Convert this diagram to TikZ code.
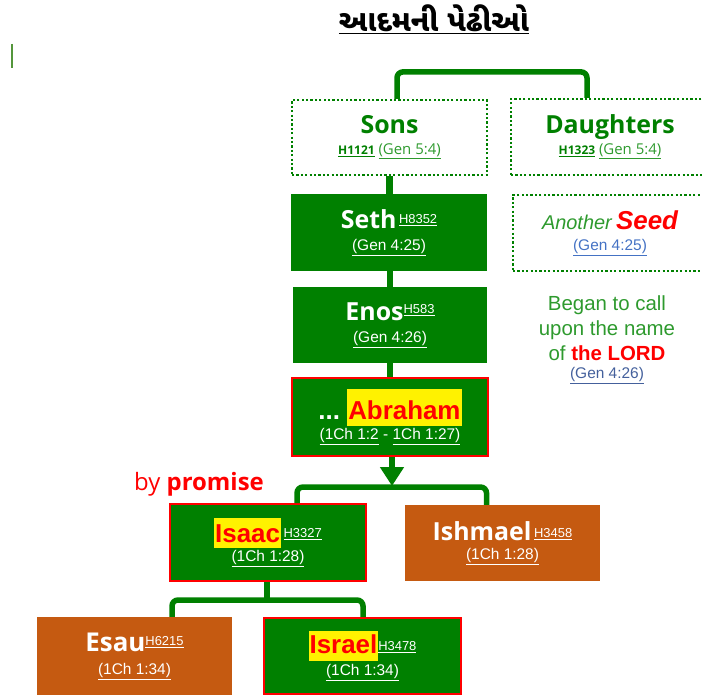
\documentclass[tikz,border=0pt]{standalone}
\usepackage{fontspec}
\setmainfont{Liberation Sans}
\newfontfamily\seg{Open Sans}
\newfontfamily\guj[Script=Gujarati]{Noto Sans Gujarati UI}
\usetikzlibrary{arrows.meta,calc}
\definecolor{gr}{RGB}{0,128,0}
\definecolor{lgr}{RGB}{46,154,46}
\definecolor{org}{RGB}{197,90,17}
\definecolor{lnk}{RGB}{68,114,196}
\definecolor{slate}{RGB}{68,96,156}
\definecolor{barc}{RGB}{84,150,60}
\newcommand\fs[2]{\fontsize{#1}{#2}\selectfont}
\newcommand\hlt[3]{{\setlength{\fboxsep}{0pt}\colorbox{yellow}{\kern1bp\rule[-#2]{0pt}{#3}#1\kern1bp}}}
\newcommand\hnum[2]{\raisebox{#2}{\fs{13}{14}\underline{#1}}}
\tikzset{
  gbox/.style={fill=gr, text=white, inner sep=0pt, align=center},
  rbox/.style={fill=gr, draw=red, line width=2bp, text=white, inner sep=0pt, align=center},
  obox/.style={fill=org, text=white, inner sep=0pt, align=center},
  dbox/.style={draw=gr, line width=2.2bp, dash pattern=on 2.2bp off 2.2bp, inner sep=0pt, align=center},
  conn/.style={draw=gr, line width=6.5bp},
  brk/.style={draw=gr, line width=5.5bp, rounded corners=6bp},
}
\begin{document}
\begin{tikzpicture}[x=1bp,y=-1bp]
\useasboundingbox (0,0) rectangle (702,698);
% title
\node (title) at (434,19) {\guj\bfseries\fs{30}{34}\underline{આદમની પેઢીઓ}};
\draw[barc, line width=2.5bp] (12,44) -- (12,68);
% boxes
\node[dbox, minimum width=195bp, minimum height=75bp, font=\seg\fs{15}{21}] (sons) at (389.5,137.5)
  {{\bfseries\color{gr}\fs{25}{21}Sons}\\{\bfseries\color{gr}\fs{12}{14}\underline{H1121}} {\color{lgr}\underline{(Gen 5:4)}}};
\node[dbox, minimum width=198bp, minimum height=76bp, font=\seg\fs{15}{21}] (daughters) at (610,137)
  {{\bfseries\color{gr}\fs{25}{21}Daughters}\\{\bfseries\color{gr}\fs{12}{14}\underline{H1323}} {\color{lgr}\underline{(Gen 5:4)}}};
\node[gbox, minimum width=196bp, minimum height=77bp, font=\fs{15.5}{22}] (seth) at (389,232.5)
  {{\seg\bfseries\fs{25}{22}Seth}\,\hnum{H8352}{5bp}\\\underline{(Gen 4:25)}};
\node[gbox, minimum width=194bp, minimum height=76bp, font=\fs{15.5}{22}] (enos) at (390,325)
  {{\seg\bfseries\fs{25}{22}Enos}\hnum{H583}{7bp}\\\underline{(Gen 4:26)}};
\node[dbox, minimum width=194bp, minimum height=76bp, font=\fs{15.5}{21}] (seed) at (610,233)
  {{\itshape\color{lgr}\fs{20}{21}Another} {\bfseries\itshape\color{red}\fs{26}{21}Seed}\\{\color{lnk}\underline{(Gen 4:25)}}};
\node[align=center, text=lgr, font=\fs{20.5}{25}, inner sep=0pt] (began) at (607,340)
  {Began to call\\upon the name\\of {\bfseries\color{red}the LORD}\\[-7bp]{\fs{15.5}{18}\color{slate}\underline{(Gen 4:26)}}};
\node[rbox, minimum width=196bp, minimum height=78bp, font=\fs{15.5}{20}] (abraham) at (390,417)
  {{\bfseries\fs{26}{20}...\ \hlt{\color{red}Abraham}{7bp}{37bp}}\\\underline{(1Ch 1:2} - \underline{1Ch 1:27)}};
\node[text=red, inner sep=0pt, font=\seg\fs{24}{28}] (promise) at (199,484) {by {\bfseries promise}};
\node[rbox, minimum width=196bp, minimum height=77bp, font=\fs{15.5}{19}] (isaac) at (268,542.5)
  {{\bfseries\fs{26}{19}\hlt{\color{red}Isaac}{6bp}{30bp}}\,\hnum{H3327}{5bp}\\\underline{(1Ch 1:28)}};
\node[obox, minimum width=195bp, minimum height=76bp, font=\fs{15.5}{19}] (ishmael) at (502.5,543)
  {{\seg\bfseries\fs{25}{19}Ishmael}\,\hnum{H3458}{3bp}\\\underline{(1Ch 1:28)}};
\node[obox, minimum width=195bp, minimum height=78bp, font=\fs{15.5}{23}] (esau) at (134.5,656)
  {{\seg\bfseries\fs{26}{23}Esau}\hnum{H6215}{6bp}\\\underline{(1Ch 1:34)}};
\node[rbox, minimum width=197bp, minimum height=76bp, font=\fs{15.5}{22}] (israel) at (362.5,656)
  {{\bfseries\fs{26}{22}\hlt{\color{red}Israel}{8bp}{30bp}}\hnum{H3478}{3bp}\\\underline{(1Ch 1:34)}};
% connectors
\draw[brk] ($(sons.north)+(7.5,0)$) -- ++(0,-27) -| ($(daughters.north)+(-23,0)$);
\draw[conn] (sons.south) -- (sons.south |- seth.north);
\draw[conn] ($(seth.south)+(1,0)$) -- ($(enos.north)+(0,0)$);
\coordinate (j1) at (392,487);
\draw[brk] ($(isaac.north)+(29,0)$) |- (j1) -| ($(ishmael.north)+(-16,0)$);
\draw[conn, -{Triangle[width=23bp,length=19bp]}] ($(abraham.south)+(2,0)$) -- ($(j1)+(0,-1)$);
\draw[conn] (enos.south) -- (enos.south |- abraham.north);
\coordinate (j2) at (267,600);
\draw[conn] ($(isaac.south)+(-1,0)$) -- (j2);
\draw[brk] ($(esau.north)+(37.5,0)$) |- (j2) -| ($(israel.north)+(0.5,0)$);
\end{tikzpicture}
\end{document}
